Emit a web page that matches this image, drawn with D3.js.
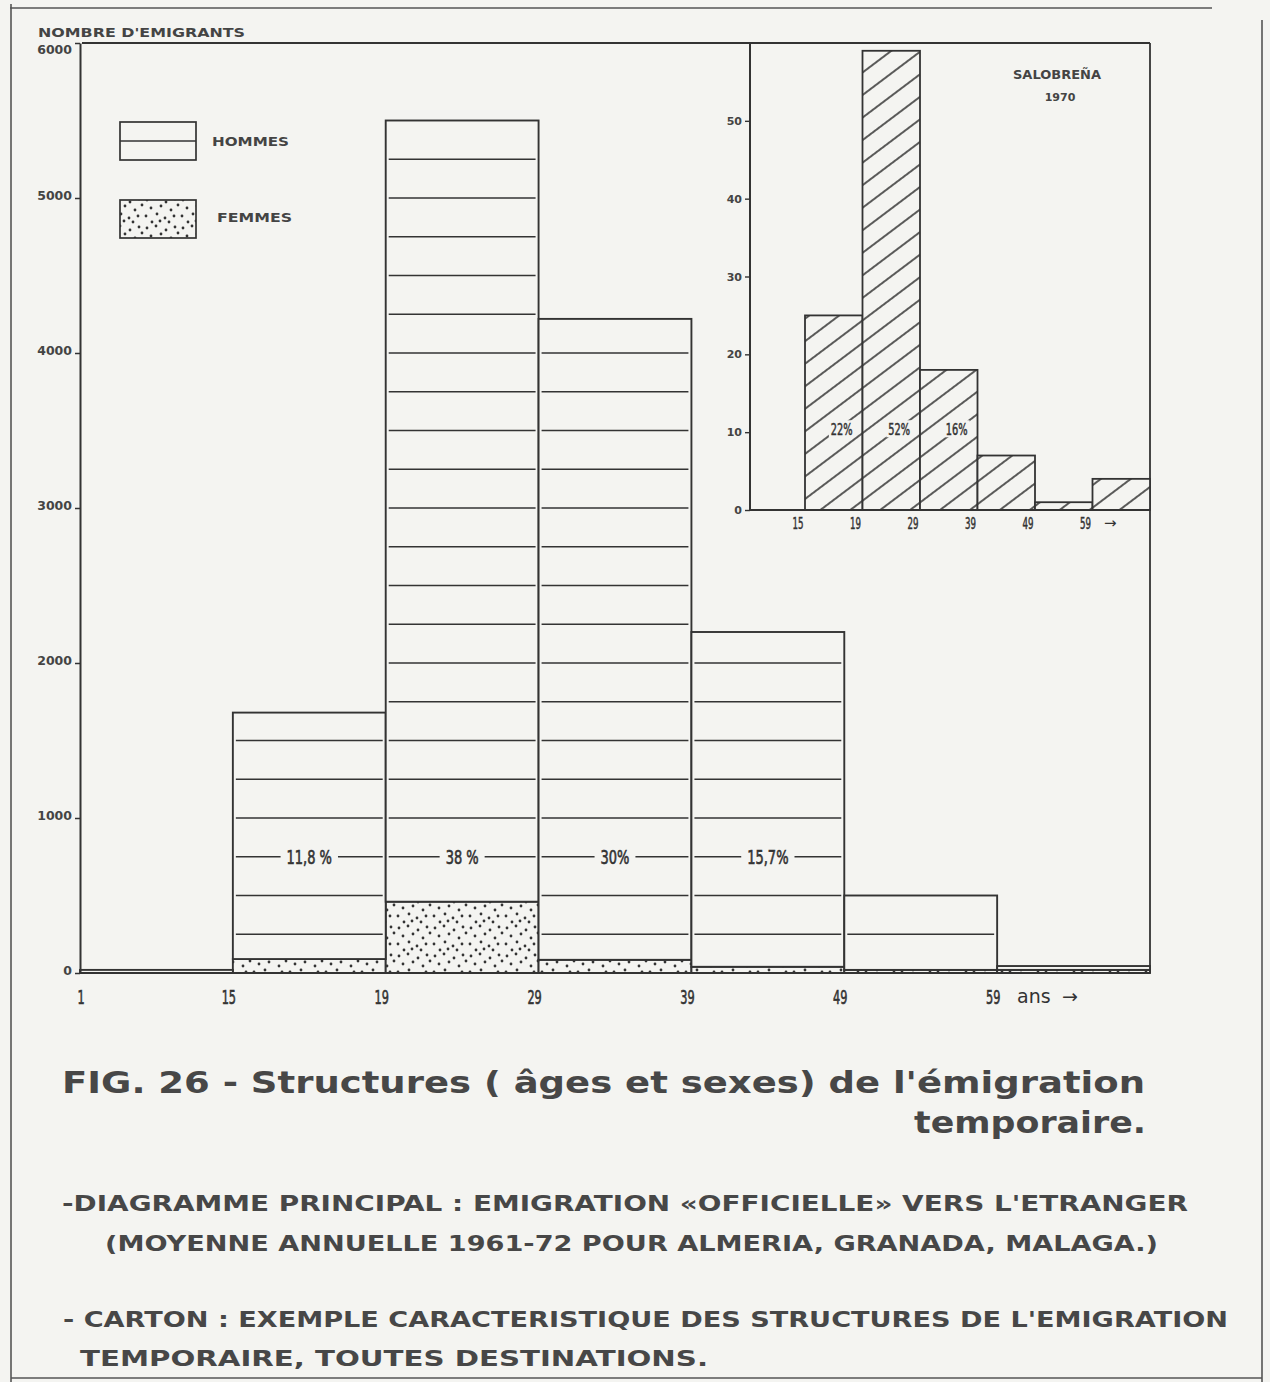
<!DOCTYPE html>
<html>
<head>
<meta charset="utf-8">
<script src="https://cdn.jsdelivr.net/npm/d3@7"></script>
<style>
  html, body { margin: 0; padding: 0; background: #f4f4f1; }
  svg { display: block; }
</style>
</head>
<body>
<svg id="fig" width="1270" height="1382"></svg>
<script>
// ---- Main diagram: average yearly "official" emigration 1961-72, by age group ----
const ageGroups = ["1-15", "15-19", "19-29", "29-39", "39-49", "49-59", "59+"];
const ageBounds = ["1", "15", "19", "29", "39", "49", "59"];
const femmes = [0, 90, 460, 85, 40, 20, 20];
const hommes = [20, 1590, 5040, 4135, 2160, 480, 25];
const shares = [null, "11,8 %", "38 %", "30%", "15,7%", null, null];
const yTicks = [0, 1000, 2000, 3000, 4000, 5000, 6000];
const hatchStep = 250;   // spacing of the horizontal rulings inside the men's bars
const shareLevel = 750;  // ruling on which the percentages are written

// ---- Inset: Salobreña 1970 ----
const insetGroups = ["15-19", "19-29", "29-39", "39-49", "49-59", "59+"];
const insetBounds = ["15", "19", "29", "39", "49", "59"];
const insetValues = [25, 59, 18, 7, 1, 4];
const insetShares = ["22%", "52%", "16%", null, null, null];
const insetTicks = [0, 10, 20, 30, 40, 50];

const W = 1270, H = 1382;
const ink = "#333";
const paper = "#f4f4f1";
const narrow = "'Liberation Sans Narrow','DejaVu Sans Condensed','Roboto Condensed','DejaVu Sans',sans-serif";
const wide = "'DejaVu Sans',Verdana,sans-serif";

// squeeze a text horizontally to imitate a condensed stencil face
function condense(sel, k) {
  sel.each(function () {
    const len = this.getComputedTextLength();
    d3.select(this).attr("textLength", len * k).attr("lengthAdjust", "spacingAndGlyphs");
  });
  return sel;
}

const svg = d3.select("#fig");
svg.append("rect").attr("width", W).attr("height", H).attr("fill", paper);

const defs = svg.append("defs");

// stipple used for women
const dotPos = [[3,4],[12,2],[22,6],[31,3],[7,12],[17,10],[27,14],[34,9],[2,20],[13,18],[21,22],[30,20],[8,26],[25,26],[16,25]];
const stip = defs.append("pattern").attr("id", "stipple")
  .attr("patternUnits", "userSpaceOnUse").attr("width", 36).attr("height", 28);
stip.append("rect").attr("width", 36).attr("height", 28).attr("fill", paper);
stip.selectAll("circle").data(dotPos).join("circle")
  .attr("cx", d => d[0]).attr("cy", d => d[1]).attr("r", 1.4).attr("fill", ink);

// diagonal hatching used in the inset
const diag = defs.append("pattern").attr("id", "diag")
  .attr("patternUnits", "userSpaceOnUse").attr("width", 18).attr("height", 18)
  .attr("patternTransform", "rotate(53)");
diag.append("rect").attr("width", 18).attr("height", 18).attr("fill", paper);
diag.append("line").attr("x1", 1).attr("y1", 0).attr("x2", 1).attr("y2", 18)
  .attr("stroke", ink).attr("stroke-width", 1.6);

// ---- page frame ----
const frame = svg.append("g").attr("stroke", "#555").attr("stroke-width", 1.6).attr("fill", "none");
frame.append("line").attr("x1", 10).attr("y1", 8).attr("x2", 1212).attr("y2", 8);
frame.append("line").attr("x1", 11).attr("y1", 4).attr("x2", 11).attr("y2", H);
frame.append("line").attr("x1", 1262).attr("y1", 20).attr("x2", 1262).attr("y2", H);
frame.append("line").attr("x1", 11).attr("y1", 1378).attr("x2", 1262).attr("y2", 1378);

// ---- scales ----
const x = d3.scaleBand().domain(ageGroups).range([80, 1150]).padding(0);
const y = d3.scaleLinear().domain([0, 6000]).range([973, 43]);
const bw = x.bandwidth();

const rows = ageGroups.map((g, i) => ({ group: g, femmes: femmes[i], hommes: hommes[i] }));
const layers = d3.stack().keys(["femmes", "hommes"])(rows);

const plot = svg.append("g");

// plot frame (top and right)
plot.append("line").attr("x1", 82).attr("y1", y(6000)).attr("x2", 1150).attr("y2", y(6000))
  .attr("stroke", ink).attr("stroke-width", 1.8);
plot.append("line").attr("x1", 1150).attr("y1", y(6000)).attr("x2", 1150).attr("y2", y(0))
  .attr("stroke", ink).attr("stroke-width", 1.8);

// stacked bars
const fills = { femmes: "url(#stipple)", hommes: paper };
layers.forEach(layer => {
  plot.append("g").selectAll("rect").data(layer).join("rect")
    .attr("x", d => x(d.data.group))
    .attr("width", bw)
    .attr("y", d => y(d[1]))
    .attr("height", d => y(d[0]) - y(d[1]))
    .attr("fill", fills[layer.key])
    .attr("stroke", ink).attr("stroke-width", 1.9);
});

// horizontal rulings inside the men's part
rows.forEach((r, i) => {
  const total = r.femmes + r.hommes;
  const x0 = x(r.group) + 3, x1 = x(r.group) + bw - 3;
  for (let v = hatchStep; v < total - 60; v += hatchStep) {
    if (v < r.femmes + 100) continue;
    if (shares[i] && v === shareLevel) {
      const cx = x(r.group) + bw / 2;
      const t = plot.append("text")
        .attr("x", cx).attr("y", y(v) + 7)
        .attr("text-anchor", "middle")
        .attr("font-family", narrow).attr("font-size", 19).attr("fill", ink)
        .attr("stroke", ink).attr("stroke-width", 0.6)
        .text(shares[i]);
      condense(t, 0.76);
      const tw = +t.attr("textLength");
      plot.append("line").attr("x1", x0).attr("x2", cx - tw / 2 - 6)
        .attr("y1", y(v)).attr("y2", y(v)).attr("stroke", ink).attr("stroke-width", 1.6);
      plot.append("line").attr("x1", cx + tw / 2 + 6).attr("x2", x1)
        .attr("y1", y(v)).attr("y2", y(v)).attr("stroke", ink).attr("stroke-width", 1.6);
    } else {
      plot.append("line").attr("x1", x0).attr("x2", x1)
        .attr("y1", y(v)).attr("y2", y(v)).attr("stroke", ink).attr("stroke-width", 1.6);
    }
  }
});

// baseline
plot.append("line").attr("x1", 80).attr("y1", y(0)).attr("x2", 1150).attr("y2", y(0))
  .attr("stroke", ink).attr("stroke-width", 2);

// y axis
const yAxis = plot.append("g").attr("transform", "translate(80,0)")
  .call(d3.axisLeft(y).tickValues(yTicks).tickSize(5).tickSizeOuter(0).tickPadding(3).tickFormat(d3.format("d")));
yAxis.select(".domain").attr("stroke", ink).attr("stroke-width", 2);
yAxis.selectAll(".tick line").attr("stroke", ink).attr("stroke-width", 1.5);
yAxis.selectAll(".tick text").attr("font-family", wide).attr("font-weight", "bold")
  .attr("font-size", 12.5).attr("fill", "#444").attr("dy", d => d === 6000 ? "0.85em" : "0.1em");

plot.append("text").attr("x", 38).attr("y", 37)
  .attr("font-family", wide).attr("font-weight", "bold").attr("font-size", 12.5).attr("fill", "#444")
  .attr("textLength", 207).attr("lengthAdjust", "spacingAndGlyphs")
  .text("NOMBRE D'EMIGRANTS");

// x axis: labels on the class boundaries
const xl = plot.append("g").selectAll("text").data(ageBounds).join("text")
  .attr("x", (d, i) => x(ageGroups[i]) - (i === 0 ? -1 : 4))
  .attr("y", 1004)
  .attr("text-anchor", "middle")
  .attr("font-family", narrow).attr("font-size", 19).attr("fill", ink)
  .attr("stroke", ink).attr("stroke-width", 0.6)
  .text(d => d);
condense(xl, 0.66);
plot.append("text").attr("x", 1017).attr("y", 1003)
  .attr("font-family", wide).attr("font-size", 19).attr("fill", ink)
  .text("ans");
plot.append("text").attr("x", 1062).attr("y", 1003)
  .attr("font-family", wide).attr("font-size", 19).attr("fill", ink)
  .text("\u2192");

// legend
const leg = plot.append("g");
leg.append("rect").attr("x", 120).attr("y", 122).attr("width", 76).attr("height", 38)
  .attr("fill", paper).attr("stroke", ink).attr("stroke-width", 1.7);
leg.append("line").attr("x1", 120).attr("x2", 196).attr("y1", 141).attr("y2", 141)
  .attr("stroke", ink).attr("stroke-width", 1.6);
leg.append("rect").attr("x", 120).attr("y", 200).attr("width", 76).attr("height", 38)
  .attr("fill", "url(#stipple)").attr("stroke", ink).attr("stroke-width", 1.7);
leg.append("text").attr("x", 212).attr("y", 146).attr("font-family", wide).attr("font-weight", "bold")
  .attr("font-size", 13).attr("fill", "#444").attr("textLength", 77).attr("lengthAdjust", "spacingAndGlyphs")
  .text("HOMMES");
leg.append("text").attr("x", 217).attr("y", 222).attr("font-family", wide).attr("font-weight", "bold")
  .attr("font-size", 13).attr("fill", "#444").attr("textLength", 75).attr("lengthAdjust", "spacingAndGlyphs")
  .text("FEMMES");

// ---- inset ----
const ix = d3.scaleBand().domain(insetGroups).range([805, 1150]).padding(0);
const iy = d3.scaleLinear().domain([0, 60]).range([510, 43]);
const ibw = ix.bandwidth();
const inset = svg.append("g");

inset.selectAll("rect.bar").data(insetValues).join("rect").attr("class", "bar")
  .attr("x", (d, i) => ix(insetGroups[i]))
  .attr("width", ibw)
  .attr("y", d => iy(d))
  .attr("height", d => iy(0) - iy(d))
  .attr("fill", "url(#diag)").attr("stroke", ink).attr("stroke-width", 1.8);

insetShares.forEach((s, i) => {
  if (!s) return;
  const cx = ix(insetGroups[i]) + ibw / 2 + 8;
  const t = inset.append("text").attr("x", cx).attr("y", iy(10.5) + 7)
    .attr("text-anchor", "middle").attr("font-family", narrow)
    .attr("font-size", 16).attr("fill", ink).attr("stroke", ink).attr("stroke-width", 0.5)
    .text(s);
  condense(t, 0.68);
  const tw = +t.attr("textLength");
  inset.insert("rect", "text").attr("x", cx - tw / 2 - 2).attr("y", iy(10.5) - 8)
    .attr("width", tw + 4).attr("height", 17).attr("fill", paper);
});

inset.append("line").attr("x1", 750).attr("x2", 1150).attr("y1", iy(0)).attr("y2", iy(0))
  .attr("stroke", ink).attr("stroke-width", 2);
const iyAxis = inset.append("g").attr("transform", "translate(750,0)")
  .call(d3.axisLeft(iy).tickValues(insetTicks).tickSize(5).tickSizeOuter(0).tickPadding(3));
iyAxis.select(".domain").remove();
inset.append("line").attr("x1", 750).attr("x2", 750).attr("y1", iy(60)).attr("y2", iy(0))
  .attr("stroke", ink).attr("stroke-width", 2);
iyAxis.selectAll(".tick line").attr("stroke", ink).attr("stroke-width", 1.4);
iyAxis.selectAll(".tick text").attr("font-family", wide).attr("font-weight", "bold")
  .attr("font-size", 11).attr("fill", "#444");

const ixl = inset.append("g").selectAll("text").data(insetBounds).join("text")
  .attr("x", (d, i) => ix(insetGroups[i]) - 7)
  .attr("y", 529)
  .attr("text-anchor", "middle")
  .attr("font-family", narrow).attr("font-size", 15).attr("fill", ink)
  .attr("stroke", ink).attr("stroke-width", 0.5)
  .text(d => d);
condense(ixl, 0.64);
inset.append("text").attr("x", 1104).attr("y", 528)
  .attr("font-family", wide).attr("font-size", 15).attr("fill", ink).text("\u2192");

inset.append("text").attr("x", 1057).attr("y", 79).attr("text-anchor", "middle")
  .attr("font-family", wide).attr("font-weight", "bold").attr("font-size", 11.5).attr("fill", "#444")
  .attr("textLength", 88).attr("lengthAdjust", "spacingAndGlyphs")
  .text("SALOBREÑA");
inset.append("text").attr("x", 1060).attr("y", 101).attr("text-anchor", "middle")
  .attr("font-family", wide).attr("font-weight", "bold").attr("font-size", 11).attr("fill", "#444")
  .text("1970");

// ---- caption ----
const cap = svg.append("g").attr("fill", "#474747").attr("font-family", wide).attr("font-weight", "bold");
const capLines = [
  { t: "FIG. 26 - Structures ( âges et sexes) de l'émigration", x: 62, y: 1093, w: 1083, s: 30 },
  { t: "temporaire.", x: 914, y: 1133, w: 232, s: 30 },
  { t: "-DIAGRAMME PRINCIPAL : EMIGRATION \u00abOFFICIELLE\u00bb VERS L'ETRANGER", x: 62, y: 1211, w: 1126, s: 21 },
  { t: "(MOYENNE ANNUELLE 1961-72 POUR ALMERIA, GRANADA, MALAGA.)", x: 105, y: 1251, w: 1053, s: 21 },
  { t: "- CARTON : EXEMPLE CARACTERISTIQUE DES STRUCTURES DE L'EMIGRATION", x: 63, y: 1327, w: 1165, s: 21 },
  { t: "TEMPORAIRE, TOUTES DESTINATIONS.", x: 80, y: 1366, w: 628, s: 21 }
];
cap.selectAll("text").data(capLines).join("text")
  .attr("x", d => d.x).attr("y", d => d.y)
  .attr("font-size", d => d.s)
  .attr("textLength", d => d.w).attr("lengthAdjust", "spacingAndGlyphs")
  .text(d => d.t);
</script>
</body>
</html>
